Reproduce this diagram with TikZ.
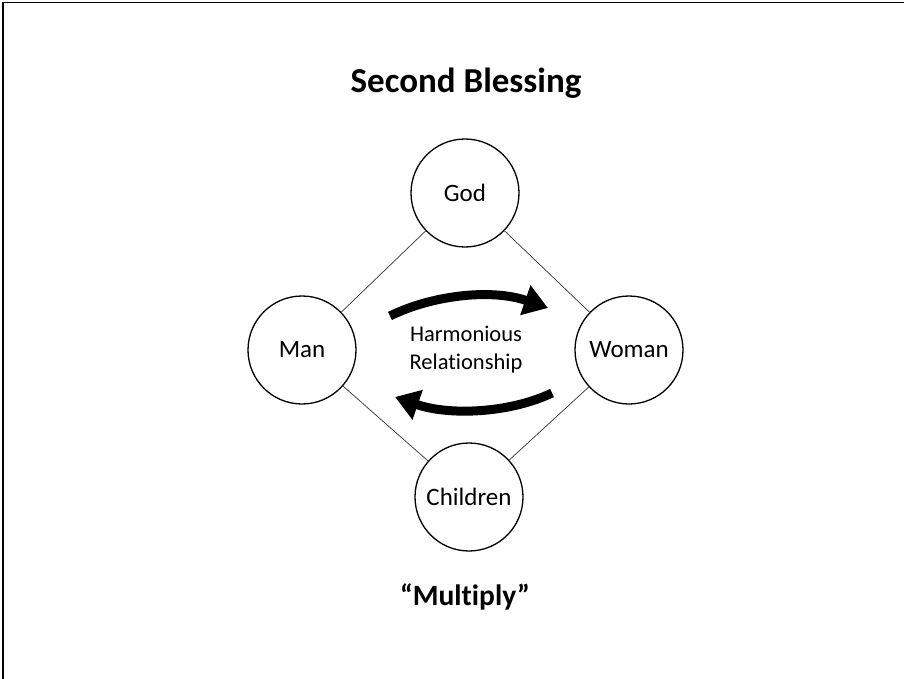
\documentclass[tikz,border=0pt]{standalone}
\usepackage{fontspec}
\setmainfont{Carlito}[Ligatures={NoCommon,TeX}]
\usetikzlibrary{arrows.meta}
\begin{document}
\begin{tikzpicture}[x=1pt,y=-1pt,
  person/.style={circle,draw=black,line width=1.3pt,minimum size=108pt,inner sep=0pt,font=\fontsize{25}{29}\selectfont},
  link/.style={draw=black!80,line width=0.7pt},
  bigarrow/.style={line width=9pt,-{Triangle[length=24pt,width=30pt]}}]
\useasboundingbox (0,0) rectangle (904,679);
\draw[line width=1.6pt] (3,679) -- (3,2.5) -- (904,2.5);
\node[font=\bfseries\fontsize{35}{40}\selectfont] (title) at (466,83) {Second Blessing};
\node[person] (god) at (465,193) {God};
\node[person] (man) at (302,350) {Man};
\node[person] (woman) at (629,350) {Woman};
\node[person] (children) at (469,497) {Children};
\draw[link] (god) -- (man);
\draw[link] (god) -- (woman);
\draw[link] (man) -- (children);
\draw[link] (woman) -- (children);
\node[align=center,font=\fontsize{22.5}{28}\selectfont] (rel) at (466,350) {Harmonious\\Relationship};
\coordinate (a1s) at (390,316);
\coordinate (a1e) at (548,308);
\coordinate (a2s) at (552,393);
\coordinate (a2e) at (395,397);
\draw[bigarrow] (a1s) .. controls (430,296) and (490,288) .. (a1e);
\draw[bigarrow] (a2s) .. controls (510,413) and (450,416) .. (a2e);
\node[font=\bfseries\fontsize{29.5}{33}\selectfont] (mult) at (465,597) {“Multiply”};
\end{tikzpicture}
\end{document}
